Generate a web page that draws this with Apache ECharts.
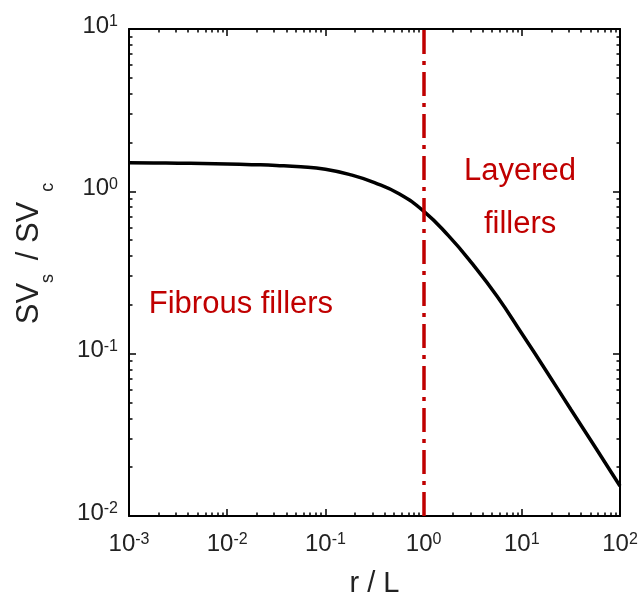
<!DOCTYPE html>
<html>
<head>
<meta charset="utf-8">
<script src="https://cdn.jsdelivr.net/npm/echarts@6/dist/echarts.min.js"></script>
<style>
html,body{margin:0;padding:0;background:#fff;}
#chart{width:639px;height:600px;}
</style>
</head>
<body>
<div id="chart"></div>
<script>
// ---- data (quarter-decade samples) ----
var rOverL = [0.001, 0.00178, 0.00316, 0.00562, 0.01, 0.0178, 0.0316, 0.0562, 0.1, 0.178, 0.316, 0.562, 1, 1.78, 3.16, 5.62, 10, 17.8, 31.6, 56.2, 100];
var svRatio = [1.500, 1.496, 1.491, 1.483, 1.472, 1.460, 1.445, 1.419, 1.368, 1.268, 1.132, 0.966, 0.755, 0.535, 0.356, 0.225, 0.133, 0.078, 0.0453, 0.0264, 0.0153];
var xMajorTicks = [0.001, 0.01, 0.1, 1, 10, 100];
var yMajorTicks = [0.01, 0.1, 1, 10];
var boundaryX = 1;
var xLabelText = 'r / L';
var fibrousText = 'Fibrous fillers';
var layeredText = 'Layered\nfillers';

function minorOf(majors) {
  var out = [];
  for (var i = 0; i < majors.length - 1; i++) {
    for (var m = 2; m <= 9; m++) out.push(majors[i] * m);
  }
  return out;
}
var xMinorTicks = minorOf(xMajorTicks);
var yMinorTicks = minorOf(yMajorTicks);

var FONT = '"Liberation Sans", Arial, sans-serif';
var RED = '#c00000';
var TXT = '#222';

function powLabel(v) {
  var e = Math.round(Math.log10(v));
  return '{b|10}{s|' + e + '}';
}
var powRich = {
  b: {fontSize: 24, lineHeight: 24, padding: [6, 0, 0, 0], verticalAlign: 'bottom', color: TXT, fontFamily: FONT},
  s: {fontSize: 16, lineHeight: 16, verticalAlign: 'top', color: TXT, fontFamily: FONT}
};

function makeAxis(kind, pos, ticks, len, isMain, extent, showLine) {
  var a = {
    type: 'log', logBase: 10, min: extent[0], max: extent[1], position: pos,
    axisLine: {show: showLine, onZero: false, lineStyle: {color: '#000', width: 2}},
    axisTick: {show: true, inside: true, length: len, customValues: ticks, lineStyle: {color: '#000', width: 1.5}},
    axisLabel: {show: false},
    splitLine: {show: false},
    minorTick: {show: false},
    minorSplitLine: {show: false}
  };
  if (isMain) {
    a.axisLabel = {
      show: true, customValues: ticks, formatter: powLabel, rich: powRich,
      showMinLabel: true, showMaxLabel: true, hideOverlap: false
    };
    if (kind === 'x') {
      a.axisLabel.margin = 16;
      a.name = xLabelText;
      a.nameLocation = 'middle';
      a.nameGap = 53;
      a.nameTextStyle = {fontSize: 29, color: TXT, fontFamily: FONT};
    } else {
      a.axisLabel.margin = 11;
      a.axisLabel.padding = [0, 0, 6, 0];
      a.name = '{m|SV}{sub|s }{m| / SV}{sub|  c}';
      a.nameLocation = 'middle';
      a.nameGap = 84;
      a.nameTextStyle = {
        color: TXT, fontFamily: FONT, padding: [0, 0, 0, 38],
        rich: {
          m: {fontSize: 31, lineHeight: 31, verticalAlign: 'top', color: TXT, fontFamily: FONT},
          sub: {fontSize: 18, lineHeight: 18, padding: [25, 0, 0, 0], verticalAlign: 'top', color: TXT, fontFamily: FONT}
        }
      };
    }
  }
  return a;
}

var xExt = [xMajorTicks[0], xMajorTicks[xMajorTicks.length - 1]];
var yExt = [yMajorTicks[0], yMajorTicks[yMajorTicks.length - 1]];

var chart = echarts.init(document.getElementById('chart'), null, {renderer: 'canvas'});
chart.setOption({
  backgroundColor: '#fff',
  animation: false,
  textStyle: {fontFamily: FONT},
  grid: {left: 129, right: 19, top: 29, bottom: 84, containLabel: false, outerBoundsMode: 'none'},
  xAxis: [
    makeAxis('x', 'bottom', xMajorTicks, 7, true, xExt, true),
    makeAxis('x', 'bottom', xMinorTicks, 3.5, false, xExt, false),
    makeAxis('x', 'top', xMajorTicks, 7, false, xExt, true),
    makeAxis('x', 'top', xMinorTicks, 3.5, false, xExt, false)
  ],
  yAxis: [
    makeAxis('y', 'left', yMajorTicks, 7, true, yExt, true),
    makeAxis('y', 'left', yMinorTicks, 3.5, false, yExt, false),
    makeAxis('y', 'right', yMajorTicks, 7, false, yExt, true),
    makeAxis('y', 'right', yMinorTicks, 3.5, false, yExt, false)
  ],
  series: [{
    type: 'line',
    xAxisIndex: 0, yAxisIndex: 0,
    data: rOverL.map(function (x, i) { return [x, svRatio[i]]; }),
    showSymbol: false,
    smooth: 0.5,
    lineStyle: {color: '#000', width: 3.5},
    itemStyle: {color: '#000'},
    silent: true,
    markLine: {
      silent: true,
      symbol: 'none',
      label: {show: false},
      lineStyle: {color: RED, width: 3.5, type: [24, 7, 4, 7]},
      data: [{xAxis: boundaryX}]
    },
    markPoint: {
      silent: true,
      symbol: 'circle',
      symbolSize: 0,
      label: {show: true, position: 'inside', color: RED, fontSize: 31, fontFamily: FONT, lineHeight: 53, align: 'center'},
      data: [
        {coord: [0.0138, 0.201], value: fibrousText, label: {formatter: fibrousText}},
        {coord: [9.6, 0.914], value: layeredText, label: {formatter: layeredText}}
      ]
    }
  }]
});
</script>
</body>
</html>
